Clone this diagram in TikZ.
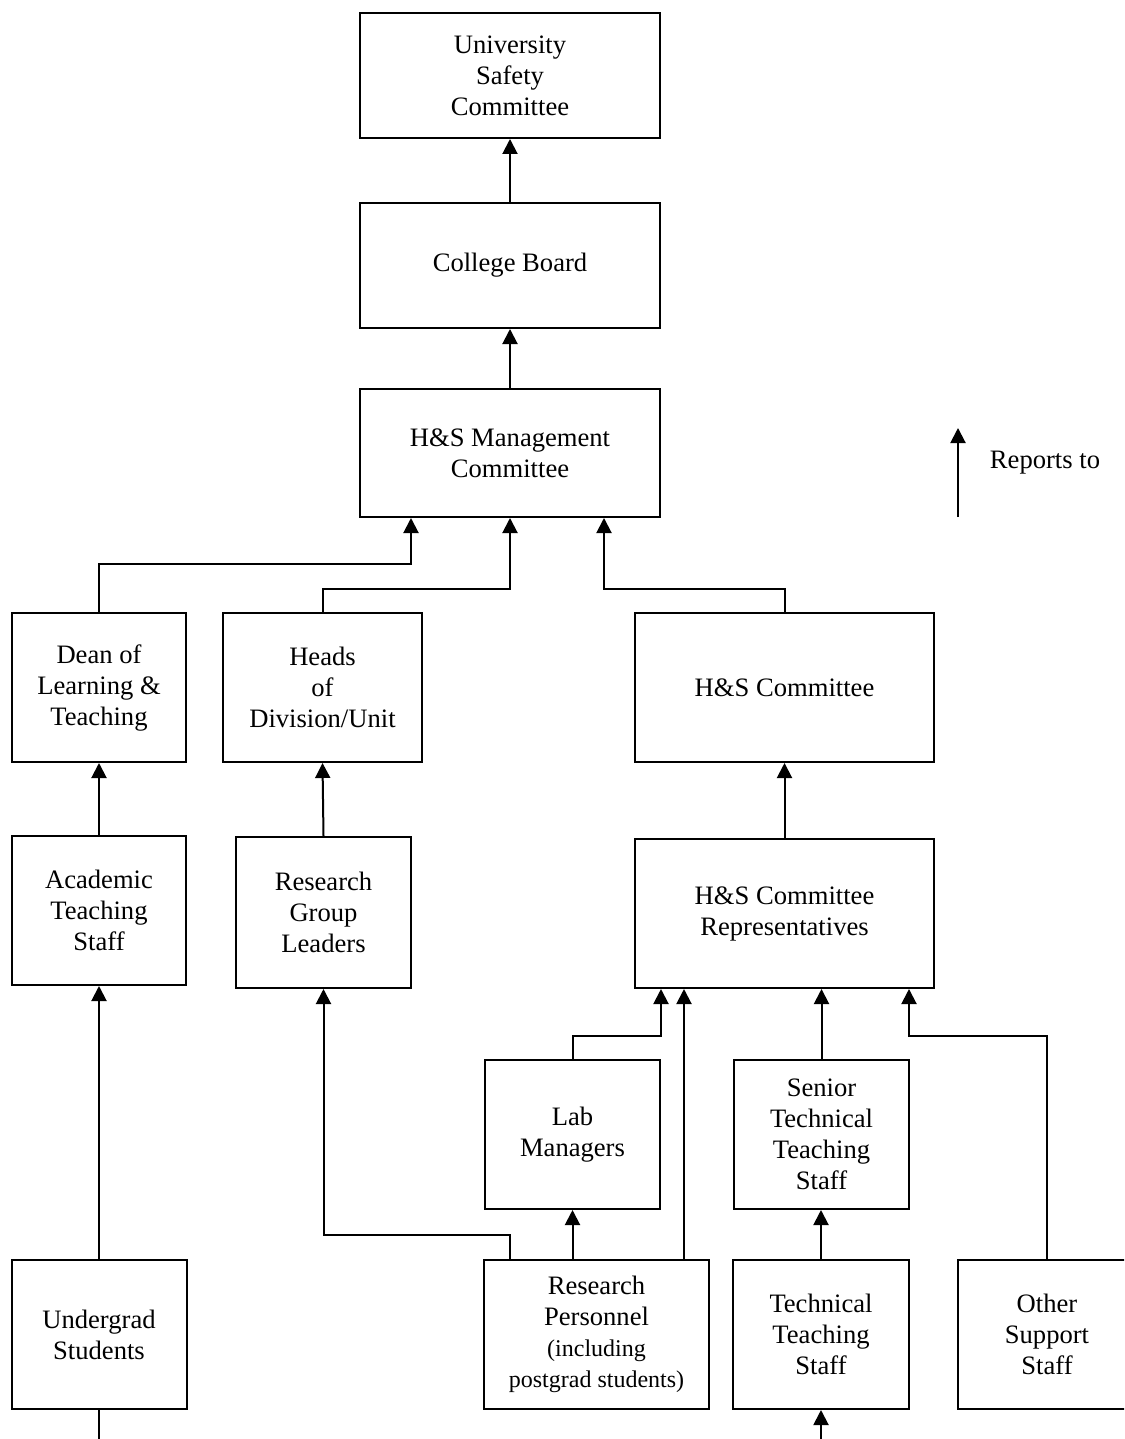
\documentclass[tikz,border=0pt]{standalone}
\usepackage{fontspec}
\setmainfont{Liberation Serif}
\usetikzlibrary{arrows.meta,calc}
\newcommand{\mainsz}{\fontsize{13.3pt}{15.5pt}\selectfont}
\newcommand{\smallsz}{\fontsize{12pt}{14pt}\selectfont}
\tikzset{
  box/.style={draw, line width=1pt, align=center, inner sep=0pt, font=\mainsz, fill=white},
  conn/.style={line width=1pt},
  arr/.style={line width=1pt, -{Triangle[width=7.5pt,length=7.5pt]}},
}
\begin{document}
\begin{tikzpicture}[x=0.5pt,y=-0.5pt]
\useasboundingbox (0,0) rectangle (1124,1439);
\fill[white] (0,0) rectangle (1124,1439);
\clip (0,0) rectangle (1124,1439);

% boxes
\node[box, minimum width=150pt, minimum height=62.5pt] (usc) at (510,75.5) {University\\Safety\\Committee};
\node[box, minimum width=150pt, minimum height=62.5pt] (cb) at (510,265.5) {College Board};
\node[box, minimum width=150pt, minimum height=64pt] (hsm) at (510,453) {H\&S Management\\Committee};
\node[box, minimum width=87pt, minimum height=74.5pt] (dlt) at (99,687.5) {Dean of\\Learning \&\\Teaching};
\node[box, minimum width=99.5pt, minimum height=74.5pt] (hdu) at (322.5,687.5) {Heads\\of\\Division/Unit};
\node[box, minimum width=149.5pt, minimum height=74.5pt] (hsc) at (784.5,687.5) {H\&S Committee};
\node[box, minimum width=87pt, minimum height=74.5pt] (ats) at (99,910.5) {Academic\\Teaching\\Staff};
\node[box, minimum width=87.5pt, minimum height=75.5pt] (rgl) at (323.5,912.5) {Research\\Group\\Leaders};
\node[box, minimum width=149.5pt, minimum height=74.5pt] (hscr) at (784.5,913.5) {H\&S Committee\\Representatives};
\node[box, minimum width=87.5pt, minimum height=74.5pt] (lm) at (572.5,1134.5) {Lab\\Managers};
\node[box, minimum width=87.5pt, minimum height=74.5pt] (stts) at (821.5,1134.5) {Senior\\Technical\\Teaching\\Staff};
\node[box, minimum width=87.5pt, minimum height=74.5pt] (ug) at (99,1334.5) {Undergrad\\Students};
\node[box, minimum width=112.5pt, minimum height=74.5pt] (rp) at (596.5,1334.5) {Research\\Personnel\\{\smallsz(including}\\{\smallsz postgrad students)}};
\node[box, minimum width=88pt, minimum height=74.5pt] (tts) at (821,1334.5) {Technical\\Teaching\\Staff};
\node[box, minimum width=89pt, minimum height=74.5pt] (oss) at (1047,1334.5) {Other\\Support\\Staff};

% legend
\coordinate (legbot) at (958,517);
\coordinate (legtop) at (958,428);
\draw[arr] (legbot) -- (legtop);
\node[font=\mainsz, inner sep=0pt] (rep) at (1045,463) {Reports to};

% connectors
\draw[arr] (cb.north) -- (usc.south);
\draw[arr] (hsm.north) -- (cb.south);
\draw[arr] (dlt.north) -- (dlt.north |- 0,564) -| ($(hsm.south)+(-99,0)$);
\draw[arr] (hdu.north) -- (hdu.north |- 0,589) -| (hsm.south);
\draw[arr] (hsc.north) -- (hsc.north |- 0,589) -| ($(hsm.south)+(94,0)$);
\draw[arr] (hscr.north) -- (hsc.south);
\draw[arr] (ats.north) -- (dlt.south);
\draw[arr] (rgl.north) -- (hdu.south);
\draw[arr] (ug.north) -- (ats.south);
\coordinate (ugout) at (99,1445);
\draw[conn] (ug.south) -- (ugout);
\draw[arr] ($(rp.north)+(-86.5,0)$) -- ++(0,-24) -| (rgl.south);
\draw[arr] (rp.north -| lm.south) -- (lm.south);
\coordinate (rpr) at ($(rp.north)+(87.5,0)$);
\draw[arr] (rpr) -- (rpr |- hscr.south);
\draw[arr] (lm.north) -- (lm.north |- 0,1036) -| ($(hscr.south)+(-123.5,0)$);
\draw[arr] (stts.north) -- (stts.north |- hscr.south);
\draw[arr] (tts.north) -- (tts.north |- stts.south);
\coordinate (ttsin) at (821,1445);
\draw[arr] (ttsin) -- (tts.south);
\draw[arr] (oss.north) -- (oss.north |- 0,1036) -| ($(hscr.south)+(124.5,0)$);
\end{tikzpicture}
\end{document}
